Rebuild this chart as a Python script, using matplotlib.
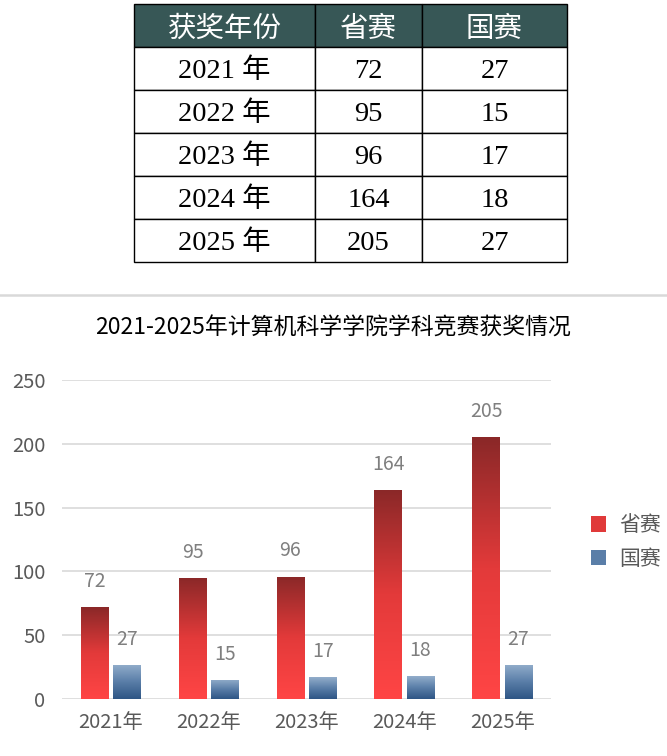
import numpy as np
import matplotlib
matplotlib.use("Agg")
import matplotlib.pyplot as plt
from matplotlib.lines import Line2D
from matplotlib.patches import Patch
from matplotlib.colors import LinearSegmentedColormap

plt.rcParams['font.family'] = ['Noto Sans CJK SC', 'DejaVu Sans']

# ---- data ----
years = ['2021年', '2022年', '2023年', '2024年', '2025年']
table_years = ['2021 年', '2022 年', '2023 年', '2024 年', '2025 年']
provincial = [72, 95, 96, 164, 205]
national = [27, 15, 17, 18, 27]
series_names = ['省赛', '国赛']
table_header = ['获奖年份', '省赛', '国赛']
title = '2021-2025年计算机科学学院学科竞赛获奖情况'
yticks = [0, 50, 100, 150, 200, 250]

W, H = 667, 756
fig = plt.figure(figsize=(W / 100, H / 100), dpi=100)
fig.patch.set_facecolor('white')

# ---- table ----
tx0, tx1, ty0, ty1 = 134, 567, 4, 262
tax = fig.add_axes([tx0 / W, 1 - ty1 / H, (tx1 - tx0) / W, (ty1 - ty0) / H])
tax.axis('off')
cell_text = [[table_years[i], str(provincial[i]), str(national[i])] for i in range(len(years))]
colw = np.array([181, 107, 145], dtype=float)
colw = colw / colw.sum()
tbl = tax.table(cellText=cell_text, colLabels=table_header, colWidths=list(colw),
                cellLoc='center', bbox=[0, 0, 1, 1])
tbl.auto_set_font_size(False)
for (r, c), cell in tbl.get_celld().items():
    cell.set_edgecolor('black')
    cell.set_linewidth(1.0)
    t = cell.get_text()
    if r == 0:
        cell.set_facecolor('#375756')
        t.set_color('white')
        t.set_fontsize(20.5)
        t.set_fontfamily(['Noto Sans CJK SC'])
        t.set_fontweight('light')
    else:
        cell.set_facecolor('white')
        t.set_color('black')
        t.set_fontsize(20.5)
        t.set_fontfamily(['Liberation Serif', 'Noto Sans CJK SC'])
    t.set_va('center_baseline')

# separator
fig.add_artist(Line2D([0, 1], [1 - 295 / H, 1 - 295 / H], transform=fig.transFigure,
                      color='#d9d9d9', lw=1.8))

# ---- chart ----
ax0, ax1, ay0, ay1 = 62, 551, 699, 380
ax = fig.add_axes([ax0 / W, 1 - ay0 / H, (ax1 - ax0) / W, (ay0 - ay1) / H])
ax.set_xlim(-0.5, len(years) - 0.5)
ax.set_ylim(0, 250)
ax.set_yticks(yticks)
ax.grid(axis='y', color='#d9d9d9', lw=1.2)
ax.set_axisbelow(True)
for s in ax.spines.values():
    s.set_visible(False)
ax.tick_params(axis='both', length=0, labelsize=14.5, labelcolor='#595959')
ax.tick_params(axis='y', pad=12)
ax.tick_params(axis='x', pad=9)
x = np.arange(len(years))
ax.set_xticks(x)
ax.set_xticklabels(years)

red_cmap = LinearSegmentedColormap.from_list('r', ['#ff4545', '#e33a3a', '#8a2828'])
blue_cmap = LinearSegmentedColormap.from_list('b', ['#2e5585', '#5a7ea8', '#93aecb'])
grad = np.linspace(0, 1, 256).reshape(-1, 1)

bw = 0.28
off = 0.165
for vals, sign, cmap in [(provincial, -1, red_cmap), (national, 1, blue_cmap)]:
    bars = ax.bar(x + sign * off, vals, width=bw, color='none', edgecolor='none', zorder=3)
    for b, v in zip(bars, vals):
        bx = b.get_x()
        im = ax.imshow(grad, extent=[bx, bx + bw, 0, v], origin='lower', cmap=cmap,
                       aspect='auto', zorder=3, interpolation='bilinear')
        im.set_clip_path(b)
        ax.text(b.get_x() + bw / 2, v + 20, str(v), ha='center', va='center',
                fontsize=14, color='#7f7f7f', zorder=4)
ax.set_xlim(-0.5, len(years) - 0.5)
ax.set_ylim(0, 250)

fig.text(333 / W, 1 - 328 / H, title, ha='center', va='center', fontsize=16.5, color='black')

handles = [Patch(facecolor='#e03a3a', edgecolor='none'), Patch(facecolor='#5a7ea8', edgecolor='none')]
leg = fig.legend(handles, series_names, loc='center left', bbox_to_anchor=(572 / W, 1 - 542 / H),
                 frameon=False, fontsize=15, handlelength=0.75, handleheight=0.75,
                 handletextpad=0.6, labelspacing=0.55, labelcolor='#595959')

fig.savefig('out.png', dpi=100)
